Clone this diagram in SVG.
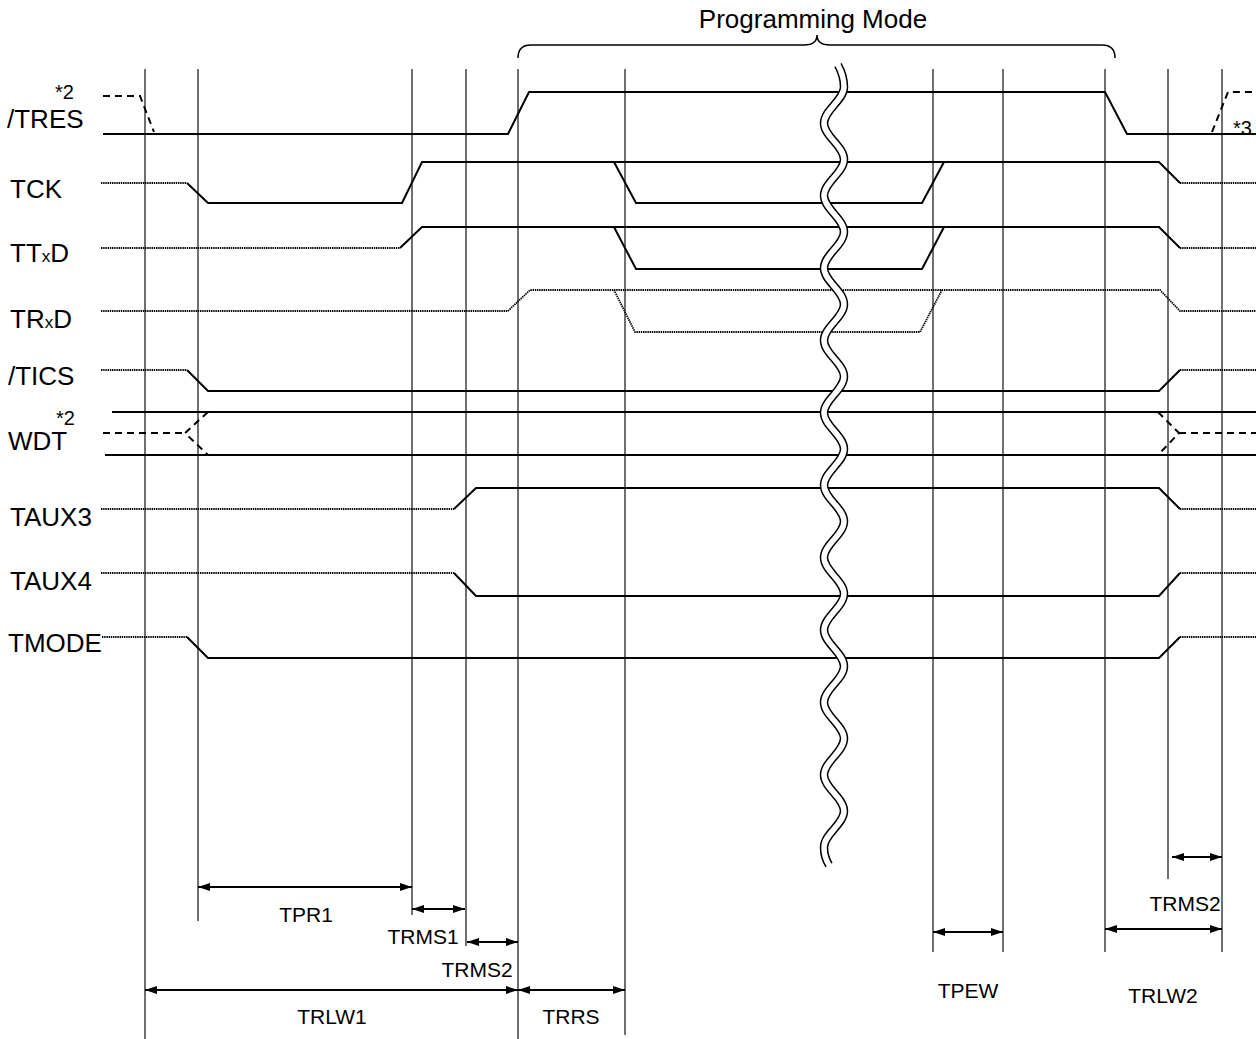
<svg xmlns="http://www.w3.org/2000/svg" width="1256" height="1039" viewBox="0 0 1256 1039">
<style>
.grid{stroke:#222;stroke-width:1.3;fill:none}
.sig{stroke:#000;stroke-width:2;fill:none}
.dot{stroke:#000;stroke-width:1.8;fill:none;stroke-dasharray:1.4 0.8}
.dash{stroke:#000;stroke-width:2;fill:none;stroke-dasharray:7 5}
.lbl{font-family:"Liberation Sans",Arial,sans-serif;font-size:26px;fill:#000}
.dim{font-family:"Liberation Sans",Arial,sans-serif;font-size:21px;fill:#000;text-anchor:middle}
.sm{font-family:"Liberation Sans",Arial,sans-serif;font-size:20px;fill:#000}
.arr{stroke:#000;stroke-width:2;fill:none;marker-start:url(#ah);marker-end:url(#ah)}
</style>
<defs>
<marker id="ah" viewBox="0 0 12 8" refX="12" refY="4" markerWidth="12" markerHeight="8" markerUnits="userSpaceOnUse" orient="auto-start-reverse">
<path d="M0,0 L12,4 L0,8 z" fill="#000"/>
</marker>
</defs>
<rect width="1256" height="1039" fill="#fff"/>

<g id="grid">
<line class="grid" x1="145" y1="69" x2="145" y2="1040"/>
<line class="grid" x1="198" y1="69" x2="198" y2="921"/>
<line class="grid" x1="412" y1="69" x2="412" y2="915"/>
<line class="grid" x1="466" y1="69" x2="466" y2="946"/>
<line class="grid" x1="518" y1="69" x2="518" y2="1040"/>
<line class="grid" x1="625" y1="69" x2="625" y2="1035"/>
<line class="grid" x1="933" y1="69" x2="933" y2="952"/>
<line class="grid" x1="1003" y1="69" x2="1003" y2="952"/>
<line class="grid" x1="1105" y1="69" x2="1105" y2="952"/>
<line class="grid" x1="1168" y1="69" x2="1168" y2="879"/>
<line class="grid" x1="1222" y1="69" x2="1222" y2="952"/>
</g>

<g id="sig-TRES">
<path class="sig" d="M103 134 L508 134 L529 92 L1105 92 L1127 134 L1256 134"/>
<path class="dash" d="M103 96 L140 96 L154 132"/>
<path class="dash" d="M1212 132 L1228 92 L1256 92"/>
</g>
<g id="sig-TCK">
<path class="dot" d="M101 183 L187 183"/>
<path class="sig" d="M187 183 L208 203 L402 203 L422 162 L1159 162 L1180 183"/>
<path class="sig" d="M614 162 L636 203 L922 203 L944 162"/>
<path class="dot" d="M1180 183 L1256 183"/>
</g>
<g id="sig-TTxD">
<path class="dot" d="M101 248 L400 248"/>
<path class="sig" d="M400 248 L422 227 L1159 227 L1180 248"/>
<path class="sig" d="M614 227 L636 269 L922 269 L944 227"/>
<path class="dot" d="M1180 248 L1256 248"/>
</g>
<g id="sig-TRxD">
<path class="dot" d="M101 311 L508 311 L530 290 L1160 290 L1180 311 L1256 311"/>
<path class="dot" d="M614 290 L635 332 L920 332 L942 290"/>
</g>
<g id="sig-TICS">
<path class="dot" d="M101 370 L187 370"/>
<path class="sig" d="M187 370 L208 391 L1159 391 L1180 370"/>
<path class="dot" d="M1180 370 L1256 370"/>
</g>
<g id="sig-WDT">
<path class="sig" d="M112 412 L1256 412"/>
<path class="sig" d="M105 455 L1256 455"/>
<path class="dash" d="M103 433 L185 433"/>
<path class="dash" d="M208 412 L185 433 L208 455"/>
<path class="dash" d="M1158 412 L1179 433 L1158 455"/>
<path class="dash" d="M1179 433 L1256 433"/>
</g>
<g id="sig-TAUX3">
<path class="dot" d="M101 509 L454 509"/>
<path class="sig" d="M454 509 L476 488 L1159 488 L1180 509"/>
<path class="dot" d="M1180 509 L1256 509"/>
</g>
<g id="sig-TAUX4">
<path class="dot" d="M101 573 L454 573"/>
<path class="sig" d="M454 573 L476 596 L1159 596 L1180 573"/>
<path class="dot" d="M1180 573 L1256 573"/>
</g>
<g id="sig-TMODE">
<path class="dot" d="M102 637 L187 637"/>
<path class="sig" d="M187 637 L208 658 L1159 658 L1180 637"/>
<path class="dot" d="M1180 637 L1256 637"/>
</g>

<g id="break">
<path d="M838 65 Q844 76 844 87 C844 100.2 824 110 824 123.2 S844 146.2 844 159.4 S824 182.4 824 195.6 S844 218.6 844 231.8 S824 254.8 824 268 S844 291 844 304.2 S824 327.2 824 340.4 S844 363.4 844 376.6 S824 399.6 824 412.8 S844 435.8 844 449 S824 472 824 485.2 S844 508.2 844 521.4 S824 544.4 824 557.6 S844 580.6 844 593.8 S824 616.8 824 630 S844 653 844 666.2 S824 689.2 824 702.4 S844 725.4 844 738.6 S824 761.6 824 774.8 S844 797.8 844 811 S824 834 824 847.2 Q824 857 829 865" fill="none" stroke="#000" stroke-width="8.5"/>
<path d="M838 65 Q844 76 844 87 C844 100.2 824 110 824 123.2 S844 146.2 844 159.4 S824 182.4 824 195.6 S844 218.6 844 231.8 S824 254.8 824 268 S844 291 844 304.2 S824 327.2 824 340.4 S844 363.4 844 376.6 S824 399.6 824 412.8 S844 435.8 844 449 S824 472 824 485.2 S844 508.2 844 521.4 S824 544.4 824 557.6 S844 580.6 844 593.8 S824 616.8 824 630 S844 653 844 666.2 S824 689.2 824 702.4 S844 725.4 844 738.6 S824 761.6 824 774.8 S844 797.8 844 811 S824 834 824 847.2 Q824 857 829 865" fill="none" stroke="#fff" stroke-width="5.5" stroke-linecap="square"/>
</g>

<g id="brace">
<path d="M518 58 Q518 45 531 45 L804 45 Q817 45 817 35 Q817 45 830 45 L1102 45 Q1115 45 1115 58" fill="none" stroke="#000" stroke-width="1.5"/>
<text class="lbl" x="813" y="28" text-anchor="middle">Programming Mode</text>
</g>

<g id="labels">
<text class="lbl" x="7" y="128">/TRES</text>
<text class="sm" x="55" y="99">*2</text>
<text class="lbl" x="10" y="198">TCK</text>
<text class="lbl" x="10" y="262">TT<tspan style="font-size:17px">x</tspan>D</text>
<text class="lbl" x="10" y="328">TR<tspan style="font-size:17px">x</tspan>D</text>
<text class="lbl" x="8" y="385">/TICS</text>
<text class="lbl" x="8" y="450">WDT</text>
<text class="sm" x="56" y="425">*2</text>
<text class="lbl" x="10" y="526">TAUX3</text>
<text class="lbl" x="10" y="590">TAUX4</text>
<text class="lbl" x="8" y="652">TMODE</text>
<text class="sm" x="1233" y="135">*3</text>
</g>

<g id="connectors">
<line class="arr" x1="198" y1="887" x2="412" y2="887"/>
<line class="arr" x1="412" y1="909" x2="465" y2="909"/>
<line class="arr" x1="467" y1="942" x2="518" y2="942"/>
<line class="arr" x1="145" y1="990" x2="518" y2="990"/>
<line class="arr" x1="518" y1="990" x2="625" y2="990"/>
<line class="arr" x1="933" y1="932" x2="1003" y2="932"/>
<line class="arr" x1="1105" y1="929" x2="1222" y2="929"/>
<line class="arr" x1="1172" y1="857" x2="1222" y2="857"/>
</g>

<g id="dim-labels">
<text class="dim" x="306" y="922">TPR1</text>
<text class="dim" x="423" y="944">TRMS1</text>
<text class="dim" x="477" y="977">TRMS2</text>
<text class="dim" x="332" y="1024">TRLW1</text>
<text class="dim" x="571" y="1024">TRRS</text>
<text class="dim" x="968" y="998">TPEW</text>
<text class="dim" x="1163" y="1003">TRLW2</text>
<text class="dim" x="1185" y="911">TRMS2</text>
</g>
</svg>
